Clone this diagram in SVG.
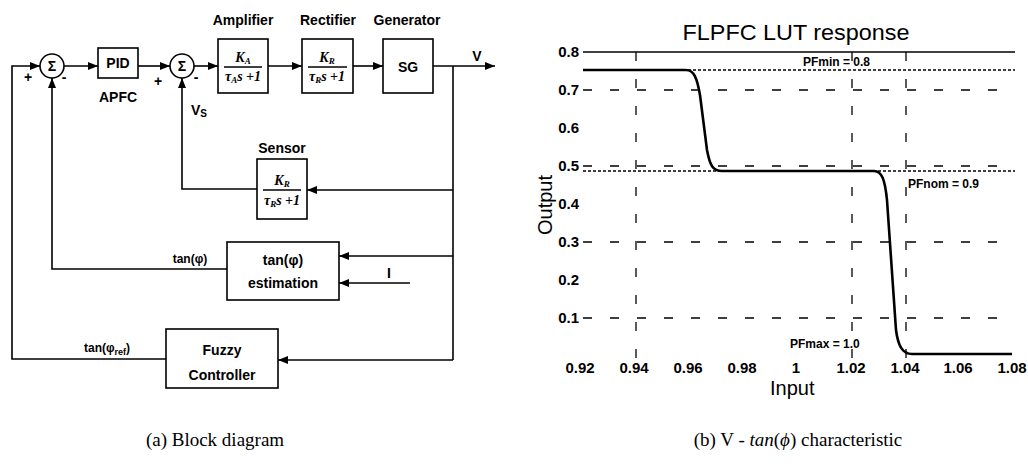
<svg xmlns="http://www.w3.org/2000/svg" width="1028" height="469" viewBox="0 0 1028 469">
<style>
.blk{fill:#fff;stroke:#000;stroke-width:1.6}
.ln{fill:none;stroke:#000;stroke-width:1.6}
.lb{font-family:"Liberation Sans",Arial,sans-serif;font-weight:bold;font-size:14px;fill:#000}
.sm{font-family:"Liberation Sans",Arial,sans-serif;font-weight:bold;font-size:12px;fill:#000}
.fr{font-family:"Liberation Serif","Times New Roman",serif;font-style:italic;font-weight:bold;font-size:14px;fill:#000}
.tk{font-family:"Liberation Sans",Arial,sans-serif;font-weight:bold;font-size:15px;fill:#000}
.ax{font-family:"Liberation Sans",Arial,sans-serif;font-size:20px;fill:#000}
.pf{font-family:"Liberation Sans",Arial,sans-serif;font-weight:bold;font-size:12px;fill:#000}
.cap{font-family:"Liberation Serif","Times New Roman",serif;font-size:19px;fill:#000}
.gd{fill:none;stroke:#000;stroke-width:1.3;stroke-dasharray:9 18}
.dt{fill:none;stroke:#000;stroke-width:1.4;stroke-dasharray:3 2}
</style>
<defs>
<marker id="ah" viewBox="0 0 10 8" refX="10" refY="4" markerWidth="10" markerHeight="8" orient="auto" markerUnits="userSpaceOnUse"><path d="M0,0 L10,4 L0,8 z" fill="#000"/></marker>
</defs>

<!-- Block diagram nodes -->
<g id="sum1"><circle class="blk" cx="52" cy="66" r="12"/><text class="lb" x="52" y="71" text-anchor="middle">Σ</text>
<text class="lb" x="28" y="82" text-anchor="middle">+</text><text class="lb" x="64" y="82" text-anchor="middle">-</text></g>
<g id="pid"><rect class="blk" x="98" y="48" width="40" height="30"/><text class="lb" x="118" y="68" text-anchor="middle">PID</text>
<text class="lb" x="118" y="102" text-anchor="middle">APFC</text></g>
<g id="sum2"><circle class="blk" cx="182" cy="66" r="12"/><text class="lb" x="182" y="71" text-anchor="middle">Σ</text>
<text class="lb" x="158" y="86" text-anchor="middle">+</text><text class="lb" x="196" y="82" text-anchor="middle">-</text>
<text class="lb" x="191" y="115">V<tspan font-size="10" dy="2">S</tspan></text></g>
<g id="amplifier"><text class="lb" x="243" y="25" text-anchor="middle">Amplifier</text><rect class="blk" x="218" y="39" width="50" height="54"/>
<text class="fr" x="243" y="62" text-anchor="middle">K<tspan font-size="9" dy="2">A</tspan></text><line class="ln" x1="224" y1="67" x2="262" y2="67" stroke-width="1.2"/>
<text class="fr" x="243" y="81" text-anchor="middle">τ<tspan font-size="9" dy="2">A</tspan><tspan dy="-2">s +1</tspan></text></g>
<g id="rectifier"><text class="lb" x="328" y="25" text-anchor="middle">Rectifier</text><rect class="blk" x="302" y="39" width="51" height="54"/>
<text class="fr" x="327" y="62" text-anchor="middle">K<tspan font-size="9" dy="2">R</tspan></text><line class="ln" x1="308" y1="67" x2="347" y2="67" stroke-width="1.2"/>
<text class="fr" x="327" y="81" text-anchor="middle">τ<tspan font-size="9" dy="2">R</tspan><tspan dy="-2">s +1</tspan></text></g>
<g id="generator"><text class="lb" x="407" y="25" text-anchor="middle">Generator</text><rect class="blk" x="383" y="39" width="50" height="54"/>
<text class="lb" x="408" y="72" text-anchor="middle" font-size="15">SG</text></g>
<g id="vout"><text class="lb" x="477" y="61" text-anchor="middle">V</text></g>
<g id="sensor"><text class="lb" x="282" y="153" text-anchor="middle">Sensor</text><rect class="blk" x="257" y="159" width="50" height="60"/>
<text class="fr" x="282" y="185" text-anchor="middle">K<tspan font-size="9" dy="2">R</tspan></text><line class="ln" x1="263" y1="190" x2="301" y2="190" stroke-width="1.2"/>
<text class="fr" x="282" y="205" text-anchor="middle">τ<tspan font-size="9" dy="2">R</tspan><tspan dy="-2">s +1</tspan></text></g>
<g id="estimation"><rect class="blk" x="227" y="242" width="112" height="58"/>
<text class="lb" x="283" y="265" text-anchor="middle">tan(φ)</text><text class="lb" x="283" y="288" text-anchor="middle" font-size="15">estimation</text>
<text class="sm" x="190" y="263" text-anchor="middle">tan(φ)</text>
<text class="lb" x="389" y="278" text-anchor="middle">I</text></g>
<g id="fuzzy"><rect class="blk" x="166" y="329" width="112" height="59"/>
<text class="lb" x="222" y="355" text-anchor="middle" font-size="17">Fuzzy</text><text class="lb" x="222" y="380" text-anchor="middle" font-size="17">Controller</text>
<text class="sm" x="84" y="352">tan(φ<tspan font-size="9" dy="3">ref</tspan><tspan dy="-3">)</tspan></text></g>

<!-- Connectors -->
<g id="connectors">
<path class="ln" d="M166,359 H12 V66 H40" marker-end="url(#ah)"/>
<path class="ln" d="M64,66 H98" marker-end="url(#ah)"/>
<path class="ln" d="M138,66 H170" marker-end="url(#ah)"/>
<path class="ln" d="M194,66 H218" marker-end="url(#ah)"/>
<path class="ln" d="M268,66 H302" marker-end="url(#ah)"/>
<path class="ln" d="M353,66 H383" marker-end="url(#ah)"/>
<path class="ln" d="M433,66 H495" marker-end="url(#ah)"/>
<path class="ln" d="M453,66 V360"/>
<path class="ln" d="M453,190 H307" marker-end="url(#ah)"/>
<path class="ln" d="M257,189 H182 V78" marker-end="url(#ah)"/>
<path class="ln" d="M453,256 H339" marker-end="url(#ah)"/>
<path class="ln" d="M410,283 H339" marker-end="url(#ah)"/>
<path class="ln" d="M227,269 H52 V78" marker-end="url(#ah)"/>
<path class="ln" d="M453,360 H278" marker-end="url(#ah)"/>
</g>

<!-- Chart -->
<g id="chart">
<text x="796" y="40" text-anchor="middle" font-family="'Liberation Sans',Arial,sans-serif" font-size="22" textLength="227" lengthAdjust="spacingAndGlyphs">FLPFC LUT response</text>
<line x1="583" y1="52" x2="1015" y2="52" stroke="#000" stroke-width="1.6"/>
<g class="gd">
<line x1="583" y1="90" x2="1015" y2="90"/><line x1="583" y1="166" x2="1015" y2="166"/>
<line x1="583" y1="242" x2="1015" y2="242"/><line x1="583" y1="318" x2="1015" y2="318"/>
<line x1="636" y1="52" x2="636" y2="358"/><line x1="852" y1="52" x2="852" y2="358"/><line x1="906" y1="52" x2="906" y2="358"/>
</g>
<line class="dt" x1="583" y1="70" x2="1015" y2="70"/>
<line class="dt" x1="583" y1="171" x2="1015" y2="171"/>
<path fill="none" stroke="#000" stroke-width="2.6" d="M583,70 H686 C694,70 697,78 700,95 L707,150 C710,166 713,171 722,171 H874 C882,171 885,180 887,200 L896,330 C898,345 902,354 912,354 H1012"/>
<g class="tk" text-anchor="end">
<text x="579" y="57">0.8</text><text x="579" y="95">0.7</text><text x="579" y="133">0.6</text><text x="579" y="171">0.5</text>
<text x="579" y="209">0.4</text><text x="579" y="247">0.3</text><text x="579" y="285">0.2</text><text x="579" y="323">0.1</text>
</g>
<g class="tk" text-anchor="middle">
<text x="580" y="373">0.92</text><text x="634" y="373">0.94</text><text x="688" y="373">0.96</text><text x="742" y="373">0.98</text>
<text x="796" y="373">1</text><text x="851" y="373">1.02</text><text x="905" y="373">1.04</text><text x="958" y="373">1.06</text><text x="1012" y="373">1.08</text>
</g>
<text class="pf" x="803" y="66">PFmin = 0.8</text>
<text class="pf" x="908" y="188">PFnom = 0.9</text>
<text class="pf" x="790" y="348">PFmax = 1.0</text>
<text class="ax" x="0" y="0" text-anchor="middle" transform="translate(552,205) rotate(-90)">Output</text>
<text class="ax" x="770" y="395">Input</text>
</g>

<!-- Captions -->
<text class="cap" x="215" y="446" text-anchor="middle">(a) Block diagram</text>
<text class="cap" x="798" y="446" text-anchor="middle">(b) V - <tspan font-style="italic">tan</tspan>(<tspan font-style="italic">ϕ</tspan>) characteristic</text>
</svg>
